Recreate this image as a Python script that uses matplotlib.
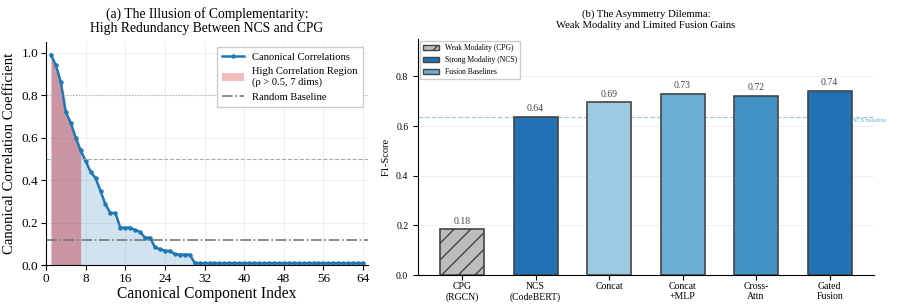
import matplotlib
matplotlib.use("Agg")
import matplotlib.pyplot as plt
from matplotlib.patches import Patch
from matplotlib.lines import Line2D

plt.rcParams['font.family'] = ['Liberation Serif', 'DejaVu Serif']

# (a) canonical correlations, components 1..64
components = list(range(1, 65))
correlations = [0.99, 0.94, 0.86, 0.72, 0.67, 0.60, 0.54, 0.49, 0.44, 0.41,
                0.35, 0.286, 0.246, 0.246, 0.177, 0.177, 0.177, 0.165, 0.157, 0.13,
                0.13, 0.084, 0.076, 0.068, 0.068, 0.053, 0.05, 0.05, 0.05, 0.012] + [0.01] * 34
high_dims = 7
random_baseline = 0.12

# (b) F1 scores
models = ['CPG\n(RGCN)', 'NCS\n(CodeBERT)', 'Concat', 'Concat\n+MLP', 'Cross-\nAttn', 'Gated\nFusion']
f1_scores = [0.184, 0.636, 0.695, 0.731, 0.722, 0.742]
bar_colors = ['#bdbdbd', '#2171b5', '#9ecae1', '#6baed6', '#4292c6', '#2171b5']
ncs_baseline = 0.637

fig = plt.figure(figsize=(8.97, 3.08), dpi=100)

# ---- left panel
ax1 = fig.add_axes([0.0513, 0.1386, 0.359, 0.725])
ax1.fill_between(components, correlations, 0, color='#1f77b4', alpha=0.2, lw=0)
ax1.fill_between(components[:high_dims], correlations[:high_dims], 0,
                 color='#c0283a', alpha=0.42, lw=0)
ax1.plot(components, correlations, color='#1f77b4', lw=1.8, marker='o', markersize=2.2)
ax1.axhline(0.8, color='#aaaaaa', ls=':', lw=0.8)
ax1.axhline(0.5, color='#aaaaaa', ls='--', lw=0.8)
ax1.axhline(random_baseline, color='#777777', ls='-.', lw=1.2)
ax1.set_xlim(0, 65)
ax1.set_ylim(0, 1.05)
ax1.set_xticks(range(0, 65, 8))
ax1.set_yticks([0.0, 0.2, 0.4, 0.6, 0.8, 1.0])
ax1.tick_params(labelsize=9.5, pad=2)
ax1.grid(True, color='#eeeeee', lw=0.7)
ax1.set_axisbelow(True)
ax1.spines['top'].set_visible(False)
ax1.spines['right'].set_visible(False)
ax1.set_xlabel('Canonical Component Index', fontsize=11.2, labelpad=1)
ax1.set_ylabel('Canonical Correlation Coefficient', fontsize=10.6, labelpad=4)
ax1.set_title('(a) The Illusion of Complementarity:\nHigh Redundancy Between NCS and CPG',
              fontsize=9.8, pad=7, linespacing=1.15)
handles1 = [
    Line2D([0], [0], color='#1f77b4', lw=1.8, marker='o', markersize=2.2),
    Patch(facecolor='#d62728', alpha=0.3),
    Line2D([0], [0], color='#777777', ls='-.', lw=1.2),
]
labels1 = ['Canonical Correlations', 'High Correlation Region\n(\u03c1 > 0.5, 7 dims)', 'Random Baseline']
ax1.legend(handles1, labels1, loc='upper right', fontsize=7.6, framealpha=1,
           edgecolor='#cccccc', fancybox=False, borderpad=0.5)

# ---- right panel
ax2 = fig.add_axes([0.466, 0.107, 0.508, 0.766])
xs = range(len(models))
bars = ax2.bar(xs, f1_scores, width=0.6, color=bar_colors, edgecolor='#444444', lw=1.2, zorder=3)
bars[0].set_hatch('//')
for x, v in zip(xs, f1_scores):
    ax2.text(x, v + 0.015, f'{v:.2f}', ha='center', va='bottom', fontsize=7, color='#444444')
ax2.axhline(ncs_baseline, color='#9ecae1', ls='--', lw=0.9, zorder=2)
ax2.text(5.3, ncs_baseline - 0.005, 'NCS baseline', fontsize=4.5, color='#6baed6',
         ha='left', va='top', clip_on=False)
ax2.set_xlim(-0.6, 5.6)
ax2.set_ylim(0, 0.95)
ax2.set_xticks(list(xs))
ax2.set_xticklabels(models, fontsize=6.7, linespacing=1.15)
ax2.set_yticks([0.0, 0.2, 0.4, 0.6, 0.8])
ax2.tick_params(labelsize=7)
ax2.tick_params(axis='x', pad=1.5)
ax2.yaxis.grid(True, color='#eeeeee', lw=0.7)
ax2.set_axisbelow(True)
ax2.spines['top'].set_visible(False)
ax2.spines['right'].set_visible(False)
ax2.set_ylabel('F1-Score', fontsize=7.5)
ax2.set_title('(b) The Asymmetry Dilemma:\nWeak Modality and Limited Fusion Gains',
              fontsize=7.7, pad=8, linespacing=1.3)
handles2 = [
    Patch(facecolor='#bdbdbd', edgecolor='#444444', hatch='//'),
    Patch(facecolor='#2171b5', edgecolor='#444444'),
    Patch(facecolor='#6baed6', edgecolor='#444444'),
]
labels2 = ['Weak Modality (CPG)', 'Strong Modality (NCS)', 'Fusion Baselines']
ax2.legend(handles2, labels2, loc='upper left', fontsize=5.5, framealpha=1,
           edgecolor='#cccccc', fancybox=False, borderaxespad=0.3)

fig.savefig('out.png', dpi=100)
